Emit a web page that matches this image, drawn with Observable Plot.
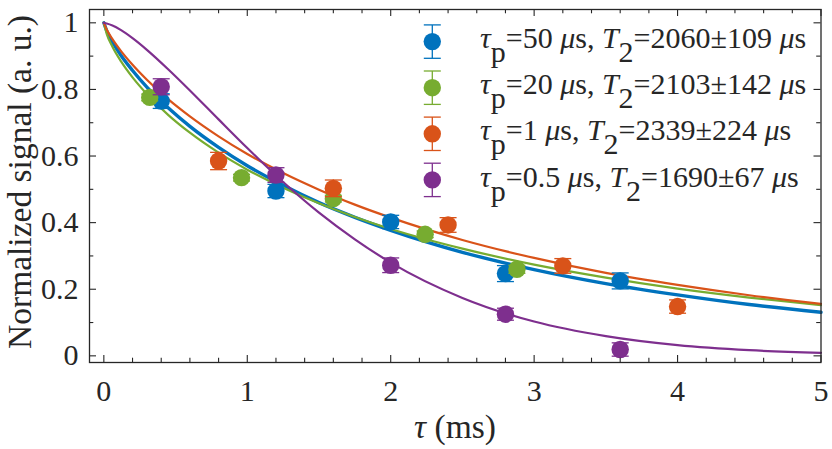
<!DOCTYPE html>
<html><head><meta charset="utf-8">
<script src="https://cdn.jsdelivr.net/npm/d3@7"></script>
<script src="https://cdn.jsdelivr.net/npm/@observablehq/plot@0.6"></script>
<style>body{margin:0;background:#fff;} text{white-space:pre;}</style>
</head><body><div id="chart"></div>
<script>
// ---- data ----
const tauFit = [0, 0.02, 0.06, 0.12, 0.2, 0.3, 0.45, 0.6, 0.8, 1.0, 1.25, 1.5, 1.75, 2.0, 2.5, 3.0, 3.5, 4.0, 4.5, 5.0];
const fitBlue   = [1, 0.976, 0.943, 0.902, 0.857, 0.807, 0.744, 0.689, 0.626, 0.571, 0.512, 0.460, 0.416, 0.377, 0.311, 0.259, 0.217, 0.183, 0.154, 0.131];
const fitGreen  = [1, 0.967, 0.928, 0.884, 0.836, 0.786, 0.723, 0.670, 0.610, 0.559, 0.505, 0.458, 0.417, 0.381, 0.322, 0.274, 0.235, 0.202, 0.175, 0.152];
const fitOrange = [1, 0.980, 0.951, 0.915, 0.874, 0.829, 0.770, 0.719, 0.659, 0.606, 0.549, 0.499, 0.454, 0.415, 0.348, 0.294, 0.249, 0.213, 0.182, 0.156];
const fitPurple = [1, 0.998, 0.992, 0.978, 0.954, 0.919, 0.860, 0.797, 0.710, 0.624, 0.522, 0.430, 0.350, 0.280, 0.174, 0.103, 0.059, 0.032, 0.017, 0.009];

const xBlue = [0.4, 1.2, 2.0, 2.8, 3.6];
const yBlue = [0.765, 0.495, 0.402, 0.247, 0.225];
const eBlue = [0.022, 0.020, 0.020, 0.024, 0.024];

const xGreen = [0.32, 0.96, 1.6, 2.24, 2.88];
const yGreen = [0.776, 0.535, 0.472, 0.365, 0.260];
const eGreen = [0.010, 0.010, 0.010, 0.010, 0.012];

const xOrange = [0.8, 1.6, 2.4, 3.2, 4.0];
const yOrange = [0.585, 0.503, 0.393, 0.270, 0.148];
const eOrange = [0.026, 0.025, 0.022, 0.022, 0.020];

const xPurple = [0.4, 1.2, 2.0, 2.8, 3.6];
const yPurple = [0.808, 0.543, 0.272, 0.125, 0.019];
const ePurple = [0.024, 0.022, 0.022, 0.018, 0.020];

const tauP   = ["50", "20", "1", "0.5"];
const T2     = ["2060", "2103", "2339", "1690"];
const T2err  = ["109", "142", "224", "67"];
const colors = ["#0072BD", "#77AC30", "#D95319", "#7E2F8E"];

const xTicks = [0, 1, 2, 3, 4, 5];
const yTicks = [0, 0.2, 0.4, 0.6, 0.8, 1];

// ---- build tables ----
const fits = [fitBlue, fitGreen, fitOrange, fitPurple];
const xs = [xBlue, xGreen, xOrange, xPurple];
const ys = [yBlue, yGreen, yOrange, yPurple];
const es = [eBlue, eGreen, eOrange, ePurple];
const series = colors.map((c, i) => ({
  color: c,
  width: i === 0 ? 3.4 : 2.2,
  fit: tauFit.map((t, j) => ({t, v: fits[i][j]})),
  pts: xs[i].map((x, j) => ({x, y: ys[i][j], e: es[i][j]}))
}));

const xMinor = d3.range(1, 25).map(i => i * 0.2).filter(v => Math.abs(v - Math.round(v)) > 1e-6);
const yMinor = [0.1, 0.3, 0.5, 0.7, 0.9];

const W = 832, H = 449, mL = 89, mR = 11.5, mT = 9, mB = 87;
const FW = W - mL - mR, FH = H - mT - mB;
const ink = "#262626";
const serif = "'Liberation Serif', 'Times New Roman', Times, serif";

const cap = {draw(ctx, size) { const r = Math.sqrt(size / Math.PI); ctx.moveTo(-r, 0); ctx.lineTo(r, 0); }};

const marks = [];
for (const s of series) {
  marks.push(Plot.line(s.fit, {x: "t", y: "v", stroke: s.color, strokeWidth: s.width, curve: "monotone-x"}));
}
for (const s of series) {
  marks.push(Plot.ruleX(s.pts, {x: "x", y1: d => d.y - d.e, y2: d => d.y + d.e, stroke: s.color, strokeWidth: 1.3}));
  marks.push(Plot.dot(s.pts, {x: "x", y: d => d.y - d.e, symbol: cap, r: 8.5, stroke: s.color, strokeWidth: 1.3, fill: "none"}));
  marks.push(Plot.dot(s.pts, {x: "x", y: d => d.y + d.e, symbol: cap, r: 8.5, stroke: s.color, strokeWidth: 1.3, fill: "none"}));
  marks.push(Plot.dot(s.pts, {x: "x", y: "y", r: 8.7, fill: s.color, stroke: "none"}));
}
// ticks (inward, all sides)
marks.push(
  Plot.tickX(xTicks, {x: d => d, insetTop: FH - 7, stroke: ink, strokeWidth: 1.1}),
  Plot.tickX(xTicks, {x: d => d, insetBottom: FH - 7, stroke: ink, strokeWidth: 1.1}),
  Plot.tickX(xMinor, {x: d => d, insetTop: FH - 4.3, stroke: ink, strokeWidth: 1.1}),
  Plot.tickX(xMinor, {x: d => d, insetBottom: FH - 4.3, stroke: ink, strokeWidth: 1.1}),
  Plot.tickY(yTicks, {y: d => d, insetRight: FW - 7, stroke: ink, strokeWidth: 1.1}),
  Plot.tickY(yTicks, {y: d => d, insetLeft: FW - 7, stroke: ink, strokeWidth: 1.1}),
  Plot.tickY(yMinor, {y: d => d, insetRight: FW - 4.3, stroke: ink, strokeWidth: 1.1}),
  Plot.tickY(yMinor, {y: d => d, insetLeft: FW - 4.3, stroke: ink, strokeWidth: 1.1}),
  Plot.frame({stroke: ink, strokeWidth: 1.3}),
  Plot.axisX(xTicks, {tickSize: 0, tickPadding: 16.7, fontSize: 30, label: null, tickFormat: d => String(d)}),
  Plot.axisY(yTicks, {tickSize: 0, tickPadding: 11, fontSize: 30, label: null, tickFormat: d => String(+d.toFixed(1))})
);

const chart = Plot.plot({
  width: W, height: H,
  marginLeft: mL, marginRight: mR, marginTop: mT, marginBottom: mB,
  x: {domain: [-0.1, 5]},
  y: {domain: [-0.02, 1.04]},
  style: {fontFamily: serif, fontSize: "30px", color: ink, background: "white", overflow: "visible"},
  marks
});
document.getElementById("chart").appendChild(chart);

// ---- axis titles and legend ----
const svg = d3.select(chart);
const xl = svg.append("text").attr("x", 455).attr("y", 438).attr("text-anchor", "middle")
  .attr("font-family", serif).attr("font-size", 33.5).attr("fill", ink);
xl.append("tspan").attr("font-style", "italic").text("τ");
xl.append("tspan").text(" (ms)");
svg.append("text").attr("transform", "translate(31,182) rotate(-90)").attr("text-anchor", "middle")
  .attr("font-family", serif).attr("font-size", 33.5).attr("fill", ink)
  .text("Normalized signal (a. u.)");

const lg = svg.append("g").attr("font-family", serif).attr("font-size", 30).attr("fill", ink).attr("text-anchor", "start");
series.forEach((s, i) => {
  const cy = 41.6 + i * 46.1, cx = 432.3;
  lg.append("line").attr("x1", cx).attr("x2", cx).attr("y1", cy - 16.7).attr("y2", cy + 16.7).attr("stroke", s.color).attr("stroke-width", 1.3);
  for (const dy of [-16.7, 16.7]) lg.append("line").attr("x1", cx - 8.5).attr("x2", cx + 8.5).attr("y1", cy + dy).attr("y2", cy + dy).attr("stroke", s.color).attr("stroke-width", 1.3);
  lg.append("circle").attr("cx", cx).attr("cy", cy).attr("r", 8.7).attr("fill", s.color);
  const t = lg.append("text").attr("x", 480).attr("y", cy + 6.6).attr("text-anchor", "start");
  t.append("tspan").attr("font-style", "italic").text("τ");
  t.append("tspan").attr("dy", 14).text("p");
  t.append("tspan").attr("dy", -14).text("=" + tauP[i] + " ");
  t.append("tspan").attr("font-style", "italic").text("μ");
  t.append("tspan").text("s, ");
  t.append("tspan").attr("font-style", "italic").text("T");
  t.append("tspan").attr("dy", 14).text("2");
  t.append("tspan").attr("dy", -14).text("=" + T2[i] + "±" + T2err[i] + " ");
  t.append("tspan").attr("font-style", "italic").text("μ");
  t.append("tspan").text("s");
});
</script></body></html>
